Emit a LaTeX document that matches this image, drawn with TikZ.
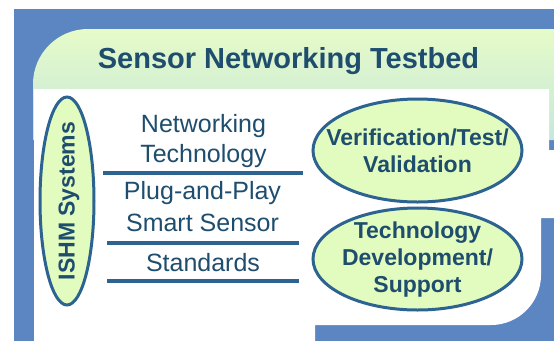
\documentclass[tikz,border=0pt]{standalone}
\usepackage{fontspec}
\setmainfont{Liberation Sans}
\usetikzlibrary{shapes.geometric}
\definecolor{bgblue}{HTML}{5B86C1}
\definecolor{panTop}{HTML}{E6FBC8}
\definecolor{panBot}{HTML}{C6E7DC}
\definecolor{darktxt}{HTML}{1E4D6E}
\definecolor{strokeblue}{HTML}{2D6390}
\definecolor{ellfill}{HTML}{E2FBBE}
\tikzset{
  oval/.style={ellipse, draw=strokeblue, line width=3pt, fill=ellfill, inner sep=0pt},
  sep/.style={draw=strokeblue, line width=3.5pt},
  plain/.style={text=darktxt, align=center, inner sep=0pt, font=\fontsize{25}{29.5}\selectfont},
  boldtxt/.style={text=darktxt, align=center, inner sep=0pt, font=\bfseries\fontsize{23}{27}\selectfont},
}
\begin{document}
\begin{tikzpicture}[x=1pt,y=-1pt]
\useasboundingbox (0,0) rectangle (554,341);
% blue background
\fill[bgblue] (14,9) rectangle (554,341);
% header panel
\shade[top color=panTop, bottom color=panBot]
  (33,140) -- (33,84) arc[start angle=180, end angle=90, radius=55pt] -- (554,29) -- (554,140) -- cycle;
% white body
\fill[white] (34,89) -- (549,89) -- (549,150) -- (554,150) -- (554,218) -- (541,218)
  -- (541,275) arc[start angle=0, end angle=-90, radius=50pt] -- (315,325) -- (315,341) -- (34,341) -- cycle;
% title
\node[text=darktxt, inner sep=0pt, anchor=base, font=\bfseries\fontsize{29}{34}\selectfont] (title) at (288.5,68) {Sensor Networking Testbed};
% ISHM ellipse
\node[oval, minimum width=54pt, minimum height=208pt] (ishm) at (67,201) {};
\node[text=darktxt, inner sep=0pt, rotate=90, anchor=base, font=\bfseries\fontsize{23}{27}\selectfont] (ishmt) at (74.5,201) {ISHM Systems};
% middle column
\node[plain] (nt) at (203.5,141) {Networking\\Technology};
\coordinate (l1a) at (103,173);
\coordinate (l1b) at (303,173);
\draw[sep] (l1a) -- (l1b);
\node[plain, font=\fontsize{25}{32}\selectfont] (pp) at (202.5,207) {Plug-and-Play\\Smart Sensor};
\coordinate (l2a) at (107,243);
\coordinate (l2b) at (299,243);
\draw[sep] (l2a) -- (l2b);
\node[plain, anchor=base] (std) at (203,271) {Standards};
\coordinate (l3a) at (107,281);
\coordinate (l3b) at (299,281);
\draw[sep] (l3a) -- (l3b);
% right ellipses
\node[oval, minimum width=209pt, minimum height=103pt] (vtv) at (417.5,150.5) {};
\node[boldtxt] (vtvt) at (vtv.center) {Verification/Test/\\Validation};
\node[oval, minimum width=209pt, minimum height=102pt] (tds) at (417.5,259) {};
\node[boldtxt] (tdst) at ([yshift=-1pt]tds.center) {Technology\\Development/\\Support};
\end{tikzpicture}
\end{document}
